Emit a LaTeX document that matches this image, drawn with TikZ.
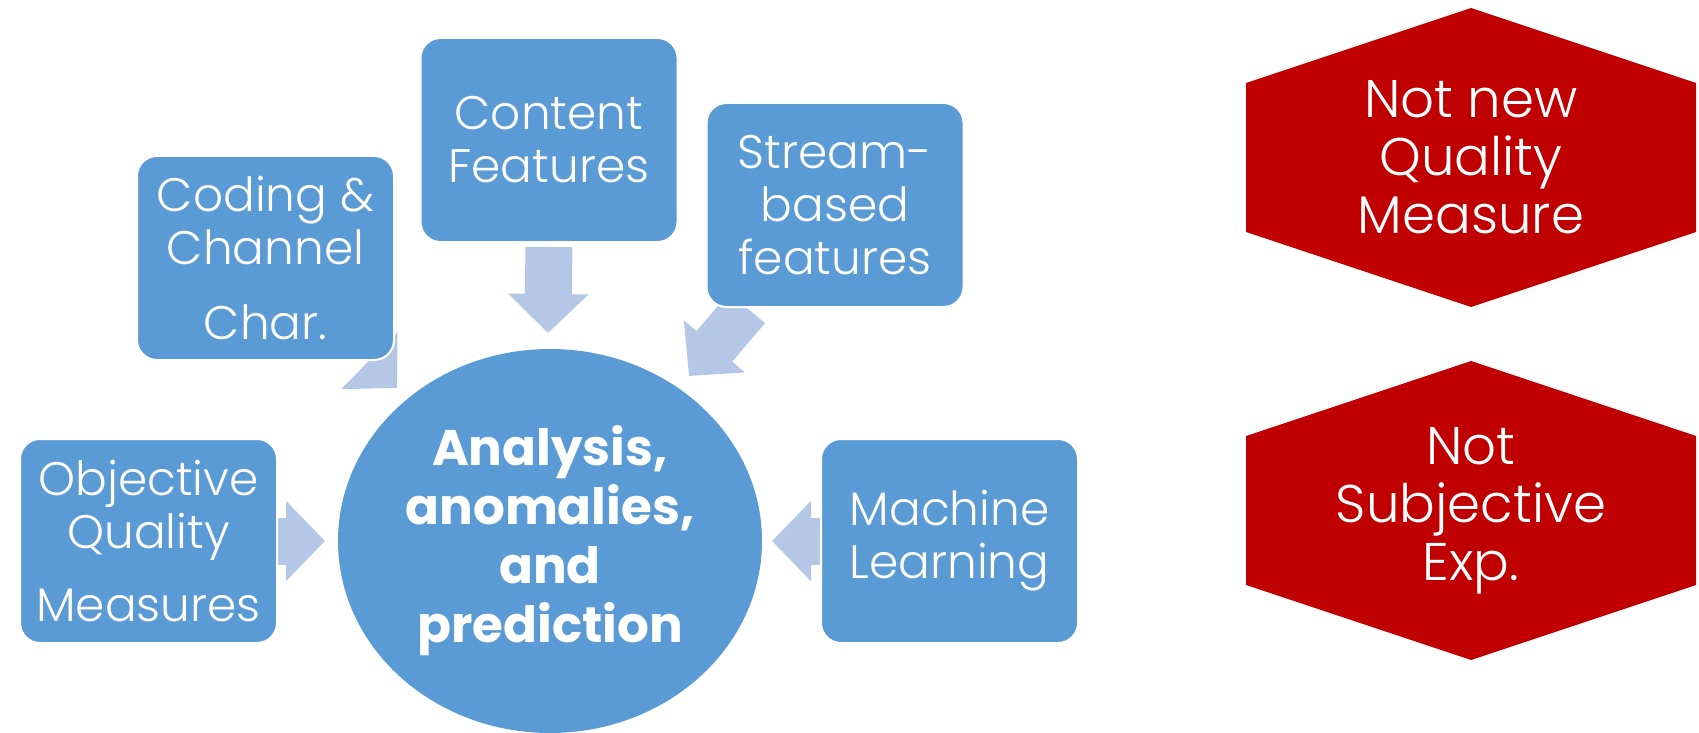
\documentclass[tikz,border=0pt]{standalone}
\usepackage{fontspec}
\usepackage{tikz}
\usetikzlibrary{shapes.geometric,arrows.meta}
\newfontfamily\boxfont{Poppins}[UprightFont={* Light},BoldFont={* Bold}]
\definecolor{boxblue}{HTML}{5B9BD5}
\definecolor{arrowblue}{HTML}{B4C7E7}
\definecolor{hexred}{HTML}{C00000}
\pgfdeclarelayer{background}
\pgfsetlayers{background,main}

\begin{document}
\begin{tikzpicture}[x=0.5pt,y=-0.5pt,
    feature/.style={rectangle, rounded corners=10pt, fill=boxblue, draw=white, line width=1pt,
      minimum width=128.5pt, minimum height=102pt, inner sep=0pt, text=white, align=center,
      font=\boxfont\fontsize{23.5}{26.5}\selectfont},
    hub/.style={ellipse, fill=boxblue, minimum width=212pt, minimum height=192pt, inner sep=0pt,
      text=white, align=center, font=\boxfont\bfseries\fontsize{25}{29.5}\selectfont},
    flowarrow/.style={draw=arrowblue, line width=23.5pt, -{Triangle[width=39pt,length=19.5pt]}},
    hextext/.style={text=white, align=center, font=\boxfont\fontsize{26.5}{29}\selectfont}]
    \useasboundingbox (0,0) rectangle (1699,733);
    % centre and the five inputs
    \node[hub] (analysis) at (550,541) {Analysis,\\anomalies,\\and\\prediction};
    \node[feature] (coding) at (265.5,258) {Coding \&\\Channel\\[11pt]Char.};
    \node[feature] (content) at (549,140) {Content\\Features};
    \node[feature] (stream) at (835,205) {Stream-\\based\\features};
    \node[feature] (objective) at (148.5,541) {Objective\\Quality\\[10pt]Measures};
    \node[feature] (machine) at (949.5,541) {Machine\\Learning};
    \coordinate (tipcoding) at (397,388);
    \coordinate (tipcontent) at (548,333);
    \coordinate (tipstream) at (689,376);
    \coordinate (tipobjective) at (325,541);
    \coordinate (tipmachine) at (772,541);
\begin{pgfonlayer}{background}
    \draw[flowarrow] (coding) -- (tipcoding);
    \draw[flowarrow, shorten <=2pt] (content.south) -- (tipcontent);
    \draw[flowarrow] (stream) -- (tipstream);
    \draw[flowarrow] (objective) -- (tipobjective);
    \draw[flowarrow] (machine) -- (tipmachine);
\end{pgfonlayer}
    % the two red hexagons
    \foreach \cy/\nm/\txt in {157.5/notnew/{Not new\\Quality\\Measure}, 510.5/notsubj/{Not\\Subjective\\Exp.}} {
      \fill[hexred] (1246,\cy-74.5) -- (1471,\cy-149.5) -- (1696,\cy-74.5)
        -- (1696,\cy+74.5) -- (1471,\cy+149.5) -- (1246,\cy+74.5) -- cycle;
      \node[hextext] (\nm) at (1471,\cy) {\txt};
    }
\end{tikzpicture}
\end{document}
